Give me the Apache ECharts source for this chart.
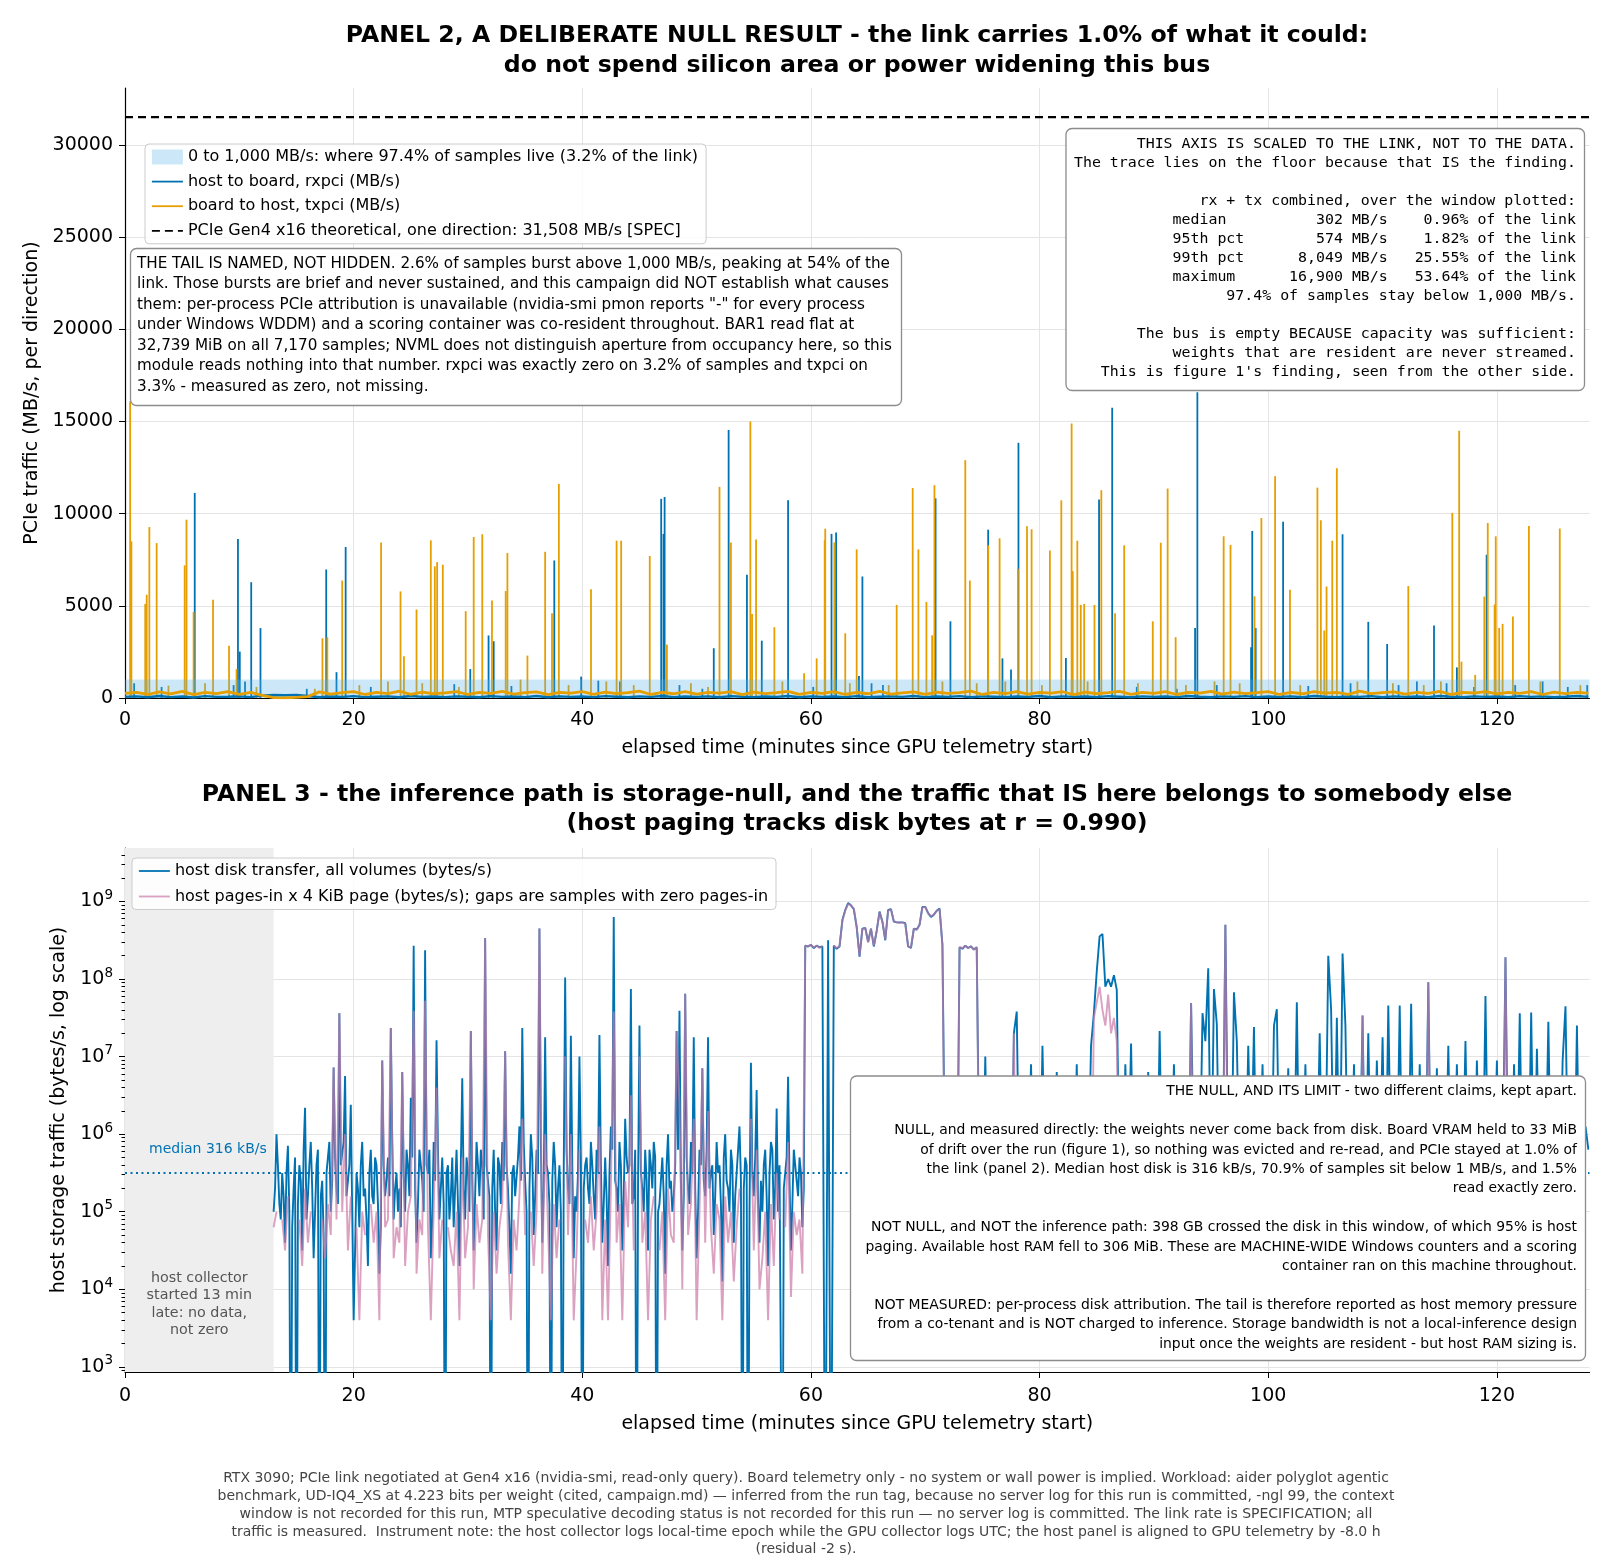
<!DOCTYPE html>
<html>
<head>
<meta charset="utf-8">
<script src="https://cdn.jsdelivr.net/npm/echarts@6/dist/echarts.min.js"></script>
<style>
  html, body { margin: 0; padding: 0; background: #fff; }
  #chart { width: 1610px; height: 1568px; }
</style>
</head>
<body>
<div id="chart"></div>
<script>
// ---- panel 2: PCIe traffic (MB/s) ----
var minutesShown = 128.1;
var linkMBs = 31508;
var bandMBs = 1000;
var minuteTicks = [0, 20, 40, 60, 80, 100, 120];
var pcieTicks = [0, 5000, 10000, 15000, 20000, 25000, 30000];

// floor of each direction, one reading per minute from t = 0
var rxFloor = [
  60, 90, 40, 110, 50, 80, 30, 100, 60, 70,
  90, 50, 130, 160, 150, 170, 110, 40, 80, 60,
  100, 50, 70, 90, 40, 110, 60, 80, 50, 90,
  70, 40, 100, 60, 80, 50, 110, 40, 90, 60,
  80, 50, 100, 70, 40, 90, 60, 110, 50, 80,
  60, 90, 40, 100, 70, 50, 80, 60, 110, 40,
  90, 60, 80, 50, 100, 40, 70, 90, 60, 110,
  50, 80, 60, 100, 40, 90, 70, 50, 80, 60,
  110, 40, 90, 60, 80, 50, 100, 70, 40, 90,
  60, 80, 50, 110, 70, 40, 90, 60, 100, 50,
  80, 60, 90, 40, 110, 70, 50, 80, 60, 100,
  40, 90, 60, 80, 50, 110, 70, 40, 90, 60,
  80, 50, 100, 60, 90, 40, 70, 110, 60
];
var txFloor = [
  250, 310, 190, 330, 220, 360, 180, 300, 240, 340,
  200, 310, 140, 20, 10, 30, 80, 330, 210, 290,
  350, 190, 300, 240, 370, 200, 320, 230, 280, 340,
  190, 310, 250, 360, 210, 290, 330, 180, 300, 260,
  350, 200, 320, 240, 290, 370, 190, 310, 230, 340,
  210, 300, 260, 350, 180, 320, 240, 290, 360, 200,
  310, 250, 340, 190, 300, 230, 360, 210, 280, 330,
  200, 320, 250, 290, 370, 190, 310, 240, 350, 210,
  300, 260, 340, 180, 320, 230, 290, 360, 200, 310,
  250, 340, 190, 300, 270, 360, 210, 320, 240, 290,
  350, 190, 310, 230, 340, 260, 300, 200, 370, 240,
  290, 330, 210, 310, 250, 360, 190, 300, 270, 340,
  220, 310, 250, 350, 190, 320, 240, 300, 260
];

// bursts: [minute, MB/s]
var rxSpikes = [
  [0.8, 800], [3.2, 600], [6.1, 11120], [9.5, 700], [9.88, 8620], [10.04, 2520], [10.5, 900],
  [11.04, 6280], [11.85, 3790], [15.9, 500], [17.6, 6970], [18.5, 1400], [19.3, 8190], [21.5, 600],
  [28.8, 750], [30.2, 1570], [31.8, 3390], [32.25, 3080], [33.8, 650], [37.55, 7460], [39.9, 1160],
  [41.4, 940], [43.3, 900], [46.9, 10800], [47.1, 8900], [47.2, 10900], [48.5, 700], [50.5, 500],
  [51.5, 2700], [52.8, 14530], [54.4, 6680], [55.7, 3110], [58.0, 10720], [60.2, 600], [61.8, 8900],
  [62.2, 8980], [64.2, 1190], [64.5, 6590], [65.3, 800], [66.3, 700], [70.9, 10830], [72.2, 4160],
  [75.5, 9130], [76.75, 2150], [77.5, 1550], [78.15, 13840], [82.3, 2170], [85.2, 10760], [86.35, 15740],
  [88.5, 600], [92.0, 500], [93.6, 3800], [93.8, 16580], [95.5, 700], [98.5, 2750], [98.6, 9060],
  [98.9, 3800], [101.3, 9560], [103.5, 650], [106.5, 8880], [107.2, 800], [108.75, 4130], [110.4, 2930],
  [111.4, 700], [113.0, 900], [114.5, 3930], [115.6, 800], [116.5, 1660], [118.0, 600], [119.1, 7770],
  [121.6, 700], [124.0, 900], [126.2, 600], [127.9, 700]
];
var txSpikes = [
  [0.45, 16100], [0.56, 8500], [1.77, 5100], [1.9, 5600], [2.13, 9270], [2.77, 8400], [3.8, 670],
  [5.22, 7190], [5.38, 9670], [6.0, 4670], [7.0, 800], [7.7, 5330], [9.1, 2840], [9.76, 1570],
  [11.5, 600], [16.6, 500], [17.27, 3240], [17.7, 3300], [19.0, 6370], [20.5, 700], [22.4, 8440],
  [23.0, 900], [24.1, 5780], [24.4, 2260], [25.5, 4800], [26.0, 800], [26.75, 8550], [27.1, 7140],
  [27.3, 7370], [27.8, 7230], [29.2, 600], [29.8, 4710], [30.5, 8730], [31.25, 8880], [32.1, 5290],
  [33.3, 5800], [33.45, 7860], [34.6, 1000], [35.2, 2300], [36.75, 7930], [37.35, 4600], [37.95, 11610],
  [38.8, 700], [40.76, 5900], [42.1, 900], [43.0, 8530], [43.4, 8530], [44.5, 700], [45.9, 7700],
  [47.4, 2900], [49.5, 800], [51.0, 600], [52.0, 11450], [53.0, 8440], [54.7, 15000], [54.85, 4560],
  [55.2, 8600], [56.8, 3840], [57.5, 900], [59.4, 1340], [60.5, 2150], [61.2, 8550], [61.25, 9180],
  [62.05, 8440], [63.0, 3510], [63.4, 800], [64.0, 8060], [66.8, 700], [67.5, 5050], [68.9, 11390],
  [69.4, 8060], [70.1, 5210], [70.6, 3400], [70.8, 11540], [71.5, 900], [73.5, 12900], [73.9, 6370],
  [74.5, 800], [75.5, 8280], [76.5, 8660], [77.0, 900], [78.1, 7010], [78.9, 9310], [79.3, 9150],
  [80.2, 700], [80.9, 8000], [81.9, 10720], [82.8, 14890], [82.9, 6880], [83.3, 8530], [83.6, 5050],
  [83.9, 5100], [84.2, 900], [84.8, 5050], [85.4, 11270], [86.6, 4600], [87.4, 8280], [88.6, 800],
  [89.9, 4160], [90.6, 8420], [91.2, 11360], [91.9, 3300], [92.8, 700], [95.3, 900], [96.1, 8770],
  [96.7, 8300], [97.5, 800], [98.8, 5520], [99.4, 9760], [100.6, 12030], [101.9, 5870], [102.8, 700],
  [104.3, 11410], [104.6, 9640], [104.9, 3660], [105.1, 6050], [105.6, 8530], [106.0, 12460],
  [107.8, 900], [110.9, 800], [112.25, 6070], [113.6, 700], [115.1, 900], [116.1, 10040],
  [116.7, 14490], [116.9, 1970], [118.1, 1250], [118.9, 5500], [119.2, 9490], [119.8, 5070],
  [119.9, 8770], [120.2, 3800], [120.5, 4020], [121.4, 4420], [122.8, 9330], [123.8, 900],
  [125.5, 9190], [127.3, 700]
];

// ---- panel 3: host storage (log10 of bytes/s), sampled every 0.25 min from minute 13 ----
var hostStartMin = 13;
var hostStepMin = 0.25;
var medianDiskBps = 316000;
var diskTicks = [1e3, 1e4, 1e5, 1e6, 1e7, 1e8, 1e9];
var _ = null; // no pages-in in that sample

var diskLog10 = [
  5.0, 6.0, 5.1, 5.5,   4.6, 5.85, 0, 5.3,    0, 5.6, 4.5, 6.34,    5.2, 5.9, 4.4, 5.6,
  0, 5.4, 0, 5.7,       5.0, 6.86, 5.3, 7.56, 5.6, 6.75, 5.2, 6.38, 3.6, 5.5, 4.8, 5.9,
  5.3, 4.3, 5.8, 5.1,   5.6, 4.2, 6.95, 5.2,  5.7, 7.37, 4.9, 5.5,  5.3, 6.8, 5.0, 5.6,
  6.47, 8.43, 4.6, 5.8, 5.4, 8.37, 5.5, 4.4, 5.9, 7.21, 4.9, 5.7,  0, 5.6, 5.2, 4.8,
  5.8, 4.3, 6.72, 4.9,  5.5, 7.33, 4.5, 5.9,  5.2, 5.6, 8.53, 5.4,  0, 5.8, 4.5, 5.6,
  5.9, 7.07, 5.3, 4.2,  5.6, 5.2, 6.1, 7.37,  5.4, 0, 6.0, 4.7,     5.8, 8.65, 4.6, 7.25,
  5.5, 0, 5.9, 4.8,     5.6, 0, 8.02, 5.3,    7.27, 4.4, 5.0, 7.0,  0, 5.6, 5.3, 5.9,
  5.2, 5.8, 7.28, 4.6,  5.7, 4.3, 6.1, 8.8,   5.3, 5.9, 4.5, 6.2,   5.5, 7.87, 5.2, 0,
  7.4, 5.3, 5.8, 4.5,   5.6, 5.9, 0, 5.1,     5.7, 4.2, 6.0, 5.4,   5.2, 7.33, 7.59, 4.5,
  7.81, 5.3, 5.9, 7.25, 4.4, 5.8, 6.85, 5.2,  7.25, 5.5, 4.7, 5.9,  5.6, 4.1, 6.0, 5.3,
  5.8, 4.6, 5.5, 6.1,   0, 5.7, 0, 6.92,      5.2, 6.57, 4.6, 5.0,  5.8, 4.3, 5.9, 4.9,
  6.33, 5.6, 0, 5.5,    6.74, 4.5, 5.8, 5.4,  5.7, 4.8, 8.43, 8.42, 8.44, 8.40, 8.43, 8.41,
  8.42, 0, 8.5, 0,      8.43, 8.39, 8.42, 8.76, 8.89, 8.98, 8.95, 8.9, 8.67, 8.29, 8.65, 8.66,
  8.48, 8.65, 8.42, 8.62, 8.87, 8.74, 8.5, 8.89, 8.9, 8.74, 8.73, 8.73, 8.73, 8.72, 8.42, 8.4,
  8.65, 8.64, 8.7, 8.93, 8.93, 8.85, 8.8, 8.83, 8.88, 8.91, 8.44, 5.1, 4.8, 5.3, 5.0, 4.6,
  8.41, 8.39, 8.43, 8.4, 8.42, 8.38, 8.41, 5.2, 5.0, 7.0, 4.8, 5.3,  5.4, 4.9, 5.5, 5.1,
  5.2, 5.6, 4.7, 7.3,   7.58, 5.0, 5.3, 4.8,  5.5, 6.9, 5.1, 5.4,   5.0, 7.14, 5.3, 4.9,
  5.6, 5.2, 6.8, 5.1,   4.8, 5.4, 5.0, 5.5,   5.2, 6.9, 4.9, 5.3,   5.1, 5.4, 7.14, 7.56,
  8.1, 8.55, 8.58, 7.9, 8.0, 7.9, 8.05, 7.86, 5.2, 5.0, 6.9, 5.4,   7.17, 5.1, 5.3, 4.9,
  5.5, 5.0, 6.8, 5.2,   5.3, 4.9, 7.33, 5.1,  5.0, 5.6, 5.2, 6.9,   5.4, 5.1, 4.8, 5.3,
  5.0, 7.69, 5.5, 5.2,  5.3, 7.56, 7.2, 8.14, 5.1, 7.87, 7.42, 5.0, 5.2, 8.7, 5.4, 5.1,
  7.83, 7.2, 5.3, 5.0,  5.2, 7.14, 5.5, 7.38, 5.0, 5.3, 6.9, 5.1,   5.4, 5.0, 7.4, 7.61,
  5.2, 4.9, 5.5, 6.85,  5.1, 5.3, 7.7, 5.0,   5.4, 6.9, 5.2, 5.1,   5.0, 5.3, 7.3, 5.2,
  5.5, 8.3, 7.6, 5.1,   7.5, 5.2, 8.33, 7.4,  5.0, 5.3, 6.9, 5.1,   5.4, 7.53, 5.0, 7.3,
  5.2, 5.1, 6.95, 5.3,  7.25, 5.0, 7.66, 5.4, 5.1, 5.3, 7.66, 5.0,  5.2, 5.4, 7.68, 5.1,
  5.3, 6.9, 5.0, 5.2,   7.96, 5.1, 5.4, 6.85, 5.2, 5.0, 5.3, 7.14,  5.1, 5.4, 6.9, 5.0,
  5.3, 7.2, 5.1, 5.2,   5.0, 6.95, 5.4, 5.1,  7.78, 5.2, 5.0, 5.3,  6.95, 5.1, 5.4, 8.28,
  5.2, 5.0, 6.9, 5.3,   7.56, 5.1, 5.4, 5.2,  7.57, 5.0, 7.1, 5.3,  5.1, 5.4, 7.45, 5.2,
  5.0, 5.3, 5.1, 6.95,  7.65, 5.2, 5.4, 5.0,  7.4, 5.1, 5.6, 6.1,
  5.8
];
// extra disk readings halfway between the samples above (t = 13.125, 13.375, ... 59.375)
var diskLog10Mid = [
  5.3, 5.6, 4.9, 5.2, 5.5, 5.0, 4.8, 5.7,
  5.1, 5.4, 5.8, 4.9, 5.6, 5.3, 5.0, 5.8,
  5.2, 4.7, 5.5, 5.9, 5.4, 5.7, 5.1, 5.6,
  5.9, 5.2, 5.6, 5.0, 4.5, 5.3, 5.6, 5.2,
  4.9, 5.5, 5.2, 5.7, 5.1, 4.8, 5.6, 5.4,
  5.2, 5.9, 5.3, 5.0, 4.8, 5.5, 5.8, 5.2,
  5.7, 5.3, 5.1, 5.6, 5.0, 5.6, 5.8, 4.9,
  5.4, 5.8, 5.3, 5.1, 5.5, 4.9, 5.7, 5.3,
  5.1, 5.6, 5.3, 5.7, 5.0, 5.4, 5.2, 5.6,
  5.8, 4.9, 5.6, 5.2, 5.3, 5.0, 5.7, 5.1,
  5.4, 5.6, 4.8, 5.5, 5.2, 5.7, 5.4, 5.9,
  5.0, 5.3, 5.7, 5.2, 5.5, 5.9, 5.3, 5.6,
  5.1, 5.4, 5.6, 5.3, 5.0, 5.5, 5.8, 5.1,
  5.6, 5.2, 5.5, 5.7, 5.3, 5.7, 5.1, 5.6,
  4.9, 5.5, 5.6, 5.1, 5.2, 5.5, 5.8, 5.4,
  5.0, 5.6, 5.2, 5.7, 5.6, 5.1, 5.8, 5.3,
  5.5, 5.0, 5.4, 5.8, 5.3, 5.7, 5.0, 5.4,
  5.2, 5.6, 5.3, 5.0, 5.6, 5.8, 5.4, 5.2,
  5.7, 5.1, 5.5, 5.3, 5.0, 5.6, 5.4, 5.8,
  5.3, 5.6, 5.2, 5.5, 5.1, 5.7, 5.4, 5.0,
  5.6, 5.2, 5.8, 5.4, 5.3, 5.6, 5.0, 5.5,
  5.7, 5.1, 5.4, 5.6, 5.2, 5.5, 5.8, 5.3,
  5.0, 5.6, 5.3, 5.7, 5.4, 5.1, 5.6, 5.2,
  5.5, 5.3
];
var pageLog10 = [
  4.8, 5.0, _, 4.9,     4.5, 5.2, _, 4.7,     _, 4.9, 4.3, 5.3,     4.6, 5.0, _, 4.8,
  _, 4.9, 4.4, 5.1,     4.7, 6.86, 4.9, 7.56, 5.0, 6.0, 4.5, 5.2,   _, 4.8, 3.6, 5.0,
  4.7, _, 5.1, 4.6,     5.0, 3.6, 6.95, 4.8,  4.9, 7.37, 4.4, 4.8,  4.6, 6.8, 4.3, 5.0,
  5.2, 7.59, 4.2, 4.9,  4.7, 7.72, 4.8, 3.6,  5.0, 6.6, 4.4, 4.9,   _, 4.8, 4.5, 4.3,
  5.0, 3.6, 5.7, 4.4,   4.8, 7.33, 4.0, 5.1,  4.6, 4.9, 8.53, 4.7,  3.6, 5.0, 4.2, 4.8,
  5.1, 7.07, 4.6, 3.6,  4.9, 4.5, 5.2, 6.2,   4.7, _, 5.0, 4.3,     5.0, 8.65, 4.2, 6.0,
  4.8, 3.6, 5.1, 4.4,   4.9, _, 7.0, 4.7,     6.0, 3.6, 4.5, 5.8,   _, 4.9, 4.6, 5.2,
  4.5, 5.0, 6.1, 3.6,   4.9, 3.6, 5.3, 7.58,  4.6, 5.1, 3.6, 5.4,   4.8, 6.5, 4.5, _,
  7.0, 4.6, 5.0, 3.6,   4.9, 5.2, _, 4.5,     5.0, 3.6, 5.3, 4.7,   4.6, 7.33, 6.4, 4.0,
  7.81, 4.7, 5.1, 6.2,  3.6, 5.0, 6.85, 4.6,  6.3, 4.8, 4.2, 5.1,   4.9, 3.6, 5.2, 4.6,
  5.0, 4.1, 4.8, 5.3,   _, 4.9, _, 6.2,       4.5, 5.8, 4.0, 4.4,   5.0, 3.6, 5.1, 4.3,
  5.5, 4.9, _, 4.8,     5.9, 3.9, 5.0, 4.7,   4.9, 4.2, 8.43, 8.42, 8.44, 8.41, 8.43, 8.40,
  8.42, _, 8.49, _,     8.43, 8.40, 8.42, 8.75, 8.88, 8.97, 8.95, 8.91, 8.68, 8.30, 8.64, 8.66,
  8.47, 8.65, 8.43, 8.62, 8.86, 8.74, 8.51, 8.88, 8.9, 8.75, 8.73, 8.72, 8.73, 8.71, 8.42, 8.41,
  8.65, 8.63, 8.7, 8.92, 8.93, 8.85, 8.81, 8.83, 8.88, 8.9, 8.44, 4.7, 4.5, 4.9, _, 4.3,
  8.41, 8.4, 8.43, 8.4, 8.42, 8.38, 8.41, 4.8, _, _, _, _,          _, _, _, _,
  _, _, 4.6, 7.3,       4.5, _, _, _,         _, _, _, _,           _, _, _, _,
  _, _, _, _,           _, _, _, _,           _, _, _, _,           _, _, 4.6, 7.5,
  7.7, 7.9, 7.6, 7.4,   7.8, 7.3, 7.5, 7.2,   4.7, _, _, _,         _, _, _, _,
  _, _, _, _,           _, _, _, _,           _, _, _, _,           _, _, _, _,
  4.6, 7.69, 4.5, _,    _, _, _, _,           _, _, _, _,           4.7, 8.7, 4.6, _,
  _, _, _, _,           _, _, _, _,           _, _, _, _,           _, _, _, _,
  _, _, _, _,           _, _, _, _,           _, _, _, _,           _, _, _, _,
  _, _, _, _,           _, _, _, _,           _, _, _, _,           4.5, 7.53, 4.6, _,
  _, _, _, _,           _, _, _, _,           _, _, _, _,           _, _, _, _,
  _, _, _, 4.5,         7.96, 4.6, _, _,      _, _, _, _,           _, _, _, _,
  _, _, _, _,           _, _, _, _,           _, _, _, _,           _, _, 4.5, 8.28,
  4.6, _, _, _,         _, _, _, _,           _, _, _, _,           _, _, _, _,
  _, _, _, _,           _, _, _, _,           _, _, _, _,
  _
];

// ---- notes ----
var tailNote = [
  'THE TAIL IS NAMED, NOT HIDDEN. 2.6% of samples burst above 1,000 MB/s, peaking at 54% of the',
  'link. Those bursts are brief and never sustained, and this campaign did NOT establish what causes',
  'them: per-process PCIe attribution is unavailable (nvidia-smi pmon reports "-" for every process',
  'under Windows WDDM) and a scoring container was co-resident throughout. BAR1 read flat at',
  '32,739 MiB on all 7,170 samples; NVML does not distinguish aperture from occupancy here, so this',
  'module reads nothing into that number. rxpci was exactly zero on 3.2% of samples and txpci on',
  '3.3% - measured as zero, not missing.'
].join('\n');
var statsNote = [
  'THIS AXIS IS SCALED TO THE LINK, NOT TO THE DATA.',
  'The trace lies on the floor because that IS the finding.',
  '',
  'rx + tx combined, over the window plotted:',
  'median          302 MB/s    0.96% of the link',
  '95th pct        574 MB/s    1.82% of the link',
  '99th pct      8,049 MB/s   25.55% of the link',
  'maximum      16,900 MB/s   53.64% of the link',
  '97.4% of samples stay below 1,000 MB/s.',
  '',
  'The bus is empty BECAUSE capacity was sufficient:',
  'weights that are resident are never streamed.',
  "This is figure 1's finding, seen from the other side."
].join('\n');
var nullNote = [
  'THE NULL, AND ITS LIMIT - two different claims, kept apart.',
  '',
  'NULL, and measured directly: the weights never come back from disk. Board VRAM held to 33 MiB',
  'of drift over the run (figure 1), so nothing was evicted and re-read, and PCIe stayed at 1.0% of',
  'the link (panel 2). Median host disk is 316 kB/s, 70.9% of samples sit below 1 MB/s, and 1.5%',
  'read exactly zero.',
  '',
  'NOT NULL, and NOT the inference path: 398 GB crossed the disk in this window, of which 95% is host',
  'paging. Available host RAM fell to 306 MiB. These are MACHINE-WIDE Windows counters and a scoring',
  'container ran on this machine throughout.',
  '',
  'NOT MEASURED: per-process disk attribution. The tail is therefore reported as host memory pressure',
  'from a co-tenant and is NOT charged to inference. Storage bandwidth is not a local-inference design',
  'input once the weights are resident - but host RAM sizing is.'
].join('\n');
var footNote = [
  'RTX 3090; PCIe link negotiated at Gen4 x16 (nvidia-smi, read-only query). Board telemetry only - no system or wall power is implied. Workload: aider polyglot agentic',
  'benchmark, UD-IQ4_XS at 4.223 bits per weight (cited, campaign.md) \u2014 inferred from the run tag, because no server log for this run is committed, -ngl 99, the context',
  'window is not recorded for this run, MTP speculative decoding status is not recorded for this run \u2014 no server log is committed. The link rate is SPECIFICATION; all',
  'traffic is measured.  Instrument note: the host collector logs local-time epoch while the GPU collector logs UTC; the host panel is aligned to GPU telemetry by -8.0 h',
  '(residual -2 s).'
].join('\n');

var SANS = 'DejaVu Sans';
var MONO = 'DejaVu Sans Mono';
var BLUE = '#0072B2';
var ORANGE = '#E69F00';
var PINK = '#CC79A7';

var names = {
  band: '0 to 1,000 MB/s: where 97.4% of samples live (3.2% of the link)',
  rx: 'host to board, rxpci (MB/s)',
  tx: 'board to host, txpci (MB/s)',
  link: 'PCIe Gen4 x16 theoretical, one direction: 31,508 MB/s [SPEC]',
  disk: 'host disk transfer, all volumes (bytes/s)',
  page: 'host pages-in x 4 KiB page (bytes/s); gaps are samples with zero pages-in'
};

function perMinute(arr) {
  return arr.map(function (v, i) { return [i, v]; });
}
function hostTime(i) {
  return hostStartMin + i * hostStepMin;
}
function hostSeries(arr) {
  return arr.map(function (e, i) {
    return [hostTime(i), e === null ? '-' : Math.pow(10, e)];
  });
}
// disk readings, with the half-step readings slotted in after their sample
function diskSeries() {
  var out = [];
  diskLog10.forEach(function (e, i) {
    out.push([hostTime(i), Math.pow(10, e)]);
    if (i < diskLog10Mid.length) {
      out.push([hostTime(i) + hostStepMin / 2, Math.pow(10, diskLog10Mid[i])]);
    }
  });
  return out;
}
function spikes(name, data, color) {
  return {
    name: name, type: 'custom', xAxisIndex: 0, yAxisIndex: 0,
    data: data, encode: { x: 0, y: 1 }, silent: true,
    renderItem: function (params, api) {
      var top = api.coord([api.value(0), api.value(1)]);
      var base = api.coord([api.value(0), 0]);
      return {
        type: 'line',
        shape: { x1: top[0], y1: base[1], x2: top[0], y2: top[1] },
        style: { stroke: color, lineWidth: 1.8 }
      };
    }
  };
}
// legend entry that shows only the line, no marker
function lineEntry(name) {
  return { name: name, itemStyle: { opacity: 0 }, lineStyle: { width: 1.8 } };
}

var minorLogTicks = [];
for (var n = 2; n <= 9; n++) {
  for (var k = 2; k <= 9; k++) {
    var mv = k * Math.pow(10, n);
    if (mv > 859 && mv < 4.89e9) minorLogTicks.push(mv);
  }
}

var axisText = { fontFamily: SANS, fontSize: 19, color: '#000' };
var gridLine = { show: true, lineStyle: { color: '#e4e4e4', width: 1 } };

function minuteAxis(gridIndex, nameGap, margin) {
  return {
    type: 'value', gridIndex: gridIndex, min: 0, max: minutesShown,
    name: 'elapsed time (minutes since GPU telemetry start)',
    nameLocation: 'middle', nameGap: nameGap, nameTextStyle: axisText,
    axisLine: { show: true, onZero: false, lineStyle: { color: '#000', width: 1.2 } },
    axisTick: { show: true, customValues: minuteTicks, length: 6, lineStyle: { color: '#000' } },
    axisLabel: { customValues: minuteTicks, margin: margin, fontFamily: SANS, fontSize: 19, color: '#000' },
    splitLine: gridLine
  };
}

var legendBase = {
  orient: 'vertical',
  padding: [5, 8, 5, 6], itemWidth: 31, itemHeight: 15, itemTextGap: 14,
  backgroundColor: 'rgba(255,255,255,0.85)', borderColor: '#cccccc', borderWidth: 1, borderRadius: 4,
  textStyle: { fontFamily: SANS, fontSize: 16, color: '#000' },
  selectedMode: false
};

var chart = echarts.init(document.getElementById('chart'), null, { renderer: 'canvas' });

var option = {
  animation: false,
  backgroundColor: '#fff',
  textStyle: { fontFamily: SANS },
  grid: [
    { left: 125, top: 88, width: 1464.5, height: 610, outerBoundsMode: 'none' },
    { left: 125, top: 848, width: 1464.5, height: 524, outerBoundsMode: 'none' }
  ],
  xAxis: [minuteAxis(0, 41, 13), minuteAxis(1, 43, 15)],
  yAxis: [
    {
      type: 'value', gridIndex: 0, min: 0, max: 33083,
      name: 'PCIe traffic (MB/s, per direction)', nameLocation: 'middle', nameGap: 82,
      nameTextStyle: axisText,
      axisLine: { show: true, lineStyle: { color: '#000', width: 1.2 } },
      axisTick: { show: true, customValues: pcieTicks, length: 6, lineStyle: { color: '#000' } },
      axisLabel: {
        customValues: pcieTicks, margin: 12, fontFamily: SANS, fontSize: 19, color: '#000',
        formatter: function (v) { return String(v); }
      },
      splitLine: gridLine
    },
    {
      type: 'log', logBase: 10, gridIndex: 1, min: 859, max: 4.89e9,
      name: 'host storage traffic (bytes/s, log scale)', nameLocation: 'middle', nameGap: 56,
      nameTextStyle: axisText,
      axisLine: { show: true, lineStyle: { color: '#000', width: 1.2 } },
      axisTick: { show: true, customValues: diskTicks, length: 6, lineStyle: { color: '#000' } },
      axisLabel: {
        customValues: diskTicks, margin: 12,
        formatter: function (v) { return '{b|10}{s|' + Math.round(Math.log10(v)) + '}'; },
        rich: {
          b: { fontFamily: SANS, fontSize: 19, color: '#000', lineHeight: 26 },
          s: { fontFamily: SANS, fontSize: 13.5, color: '#000', lineHeight: 12, verticalAlign: 'top' }
        }
      },
      splitLine: gridLine
    },
    {
      type: 'log', logBase: 10, gridIndex: 1, min: 859, max: 4.89e9, position: 'left',
      axisLine: { show: false },
      axisTick: { show: true, customValues: minorLogTicks, length: 3.5, lineStyle: { color: '#000' } },
      axisLabel: { show: false },
      splitLine: { show: false }
    }
  ],
  legend: [
    Object.assign({}, legendBase, {
      left: 145, top: 144, itemGap: 8.6,
      data: [
        { name: names.band, icon: 'rect', itemStyle: { color: 'rgba(86,180,233,0.3)' } },
        lineEntry(names.rx), lineEntry(names.tx), lineEntry(names.link)
      ]
    }),
    Object.assign({}, legendBase, {
      left: 132, top: 858, itemGap: 9.5,
      data: [lineEntry(names.disk), lineEntry(names.page)]
    })
  ],
  series: [
    {
      name: names.band, type: 'line', xAxisIndex: 0, yAxisIndex: 0, symbol: 'none', silent: true,
      data: [[0, bandMBs], [minutesShown, bandMBs]],
      lineStyle: { width: 0, opacity: 0 },
      areaStyle: { color: '#56B4E9', opacity: 0.3 }
    },
    {
      name: names.rx, type: 'line', xAxisIndex: 0, yAxisIndex: 0, symbol: 'none', silent: true,
      data: perMinute(rxFloor), lineStyle: { color: BLUE, width: 2.4 }, itemStyle: { color: BLUE }
    },
    spikes(names.rx, rxSpikes, BLUE),
    {
      name: names.tx, type: 'line', xAxisIndex: 0, yAxisIndex: 0, symbol: 'none', silent: true,
      data: perMinute(txFloor), lineStyle: { color: ORANGE, width: 2.8 }, itemStyle: { color: ORANGE }
    },
    spikes(names.tx, txSpikes, ORANGE),
    {
      name: names.link, type: 'line', xAxisIndex: 0, yAxisIndex: 0, symbol: 'none', silent: true,
      data: [[0, linkMBs], [minutesShown, linkMBs]],
      lineStyle: { color: '#000', width: 2.2, type: [8, 5] }, itemStyle: { color: '#000' }
    },
    {
      name: names.disk, type: 'line', xAxisIndex: 1, yAxisIndex: 1, symbol: 'none', silent: true,
      data: diskSeries(), connectNulls: false,
      lineStyle: { color: BLUE, width: 1.9 }, itemStyle: { color: BLUE },
      markArea: {
        silent: true,
        itemStyle: { color: '#eeeeee' },
        label: {
          show: true, position: 'insideBottom', distance: 33,
          color: '#555', fontFamily: SANS, fontSize: 14.3, lineHeight: 17.4, align: 'center',
          formatter: 'host collector\nstarted 13 min\nlate: no data,\nnot zero'
        },
        data: [[{ xAxis: 0 }, { xAxis: hostStartMin }]]
      }
    },
    {
      name: names.page, type: 'line', xAxisIndex: 1, yAxisIndex: 1, symbol: 'none', silent: true,
      data: hostSeries(pageLog10), connectNulls: false,
      lineStyle: { color: PINK, width: 1.9, opacity: 0.7 }, itemStyle: { color: PINK, opacity: 0.7 },
      markLine: {
        silent: true, symbol: 'none',
        label: { show: false },
        lineStyle: { color: BLUE, width: 2, type: [2, 3.5], opacity: 1 },
        data: [{ yAxis: medianDiskBps }]
      }
    }
  ]
};
chart.setOption(option);

// annotation boxes and titles
var medianPx = chart.convertToPixel({ xAxisIndex: 1, yAxisIndex: 1 }, [0, medianDiskBps]);
function box(x, y, w, h) {
  return {
    type: 'rect', z: 100, silent: true,
    shape: { x: x, y: y, width: w, height: h, r: 6 },
    style: { fill: '#ffffff', stroke: '#8c8c8c', lineWidth: 1.3 }
  };
}
function note(x, y, text, opts) {
  return {
    type: 'text', z: 101, silent: true, x: x, y: y,
    style: {
      text: text, fill: opts.color || '#000', fontFamily: opts.family || SANS,
      fontSize: opts.size, fontWeight: opts.weight || 'normal',
      lineHeight: opts.lineHeight, align: opts.align, verticalAlign: 'top'
    }
  };
}
chart.setOption({
  graphic: [
    note(857, 20.5, 'PANEL 2, A DELIBERATE NULL RESULT - the link carries 1.0% of what it could:\ndo not spend silicon area or power widening this bus',
      { size: 23.6, weight: 'bold', lineHeight: 30, align: 'center' }),
    note(857, 780, 'PANEL 3 - the inference path is storage-null, and the traffic that IS here belongs to somebody else\n(host paging tracks disk bytes at r = 0.990)',
      { size: 23.6, weight: 'bold', lineHeight: 29, align: 'center' }),
    note(806, 1470, footNote, { size: 14, lineHeight: 17.7, align: 'center', color: '#444' }),
    box(130.5, 248.5, 771, 157),
    note(137, 253.5, tailNote, { size: 15.2, lineHeight: 20.5, align: 'left' }),
    box(1066, 128.5, 518.5, 262),
    note(1576, 134.5, statsNote, { family: MONO, size: 14.9, lineHeight: 19, align: 'right' }),
    box(850.5, 1076, 735, 284.5),
    note(1577, 1082, nullNote, { size: 13.9, lineHeight: 19.4, align: 'right' }),
    note(149, medianPx[1] - 32, 'median 316 kB/s', { size: 14, lineHeight: 16, align: 'left', color: BLUE })
  ]
});
</script>
</body>
</html>
